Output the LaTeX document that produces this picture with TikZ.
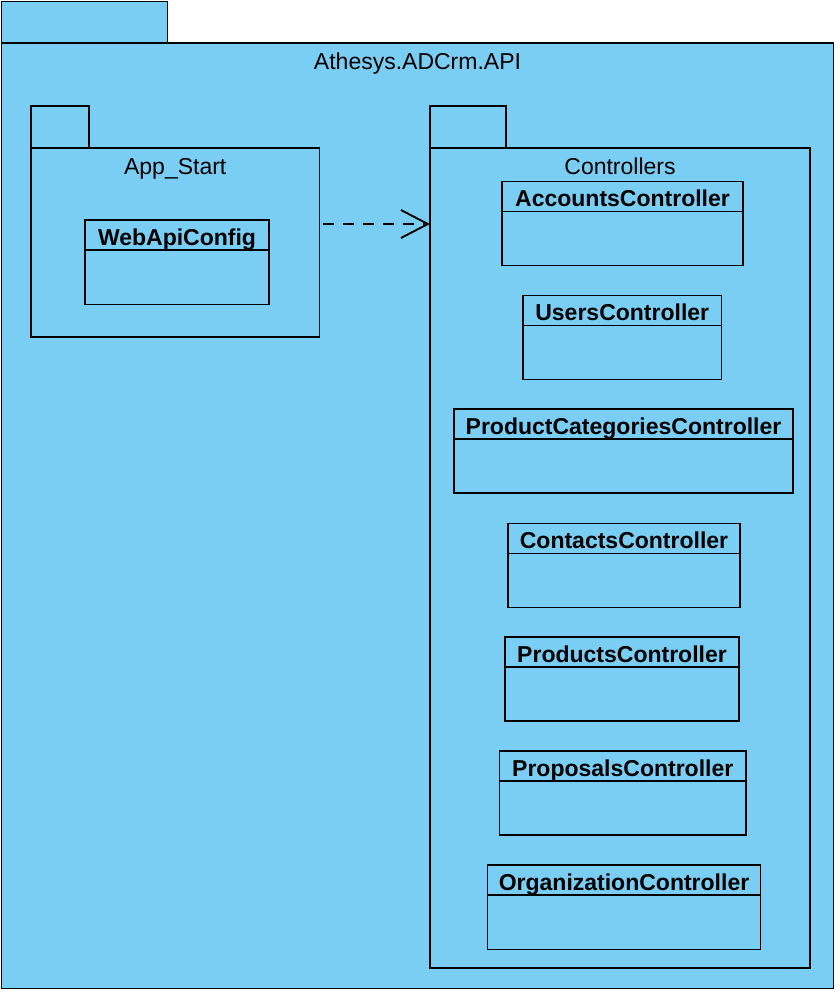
\documentclass[tikz,border=0pt]{standalone}
\usepackage{fontspec}
\setmainfont{Liberation Sans}
\usetikzlibrary{arrows.meta}
\definecolor{pkgfill}{RGB}{122,206,244}
\newcommand\umlpkg[8]{% name, title, tab right x, tab top y, x1, y1, x2, y2
  \node[pkgshape, minimum width={#3-#5}, minimum height={#6-#4}] (#1-tab) at (#5,#4) {};
  \node[pkgshape, minimum width={#7-#5}, minimum height={#8-#6}] (#1) at (#5,#6) {};
  \node[pkgtitle] (#1-title) at ([yshift=-26pt]#1.north) {#2};
}
\newcommand\umlclass[6]{% name, label, x1, y1, x2, y2
  \node[classbox, minimum width={#5-#3}, minimum height={#6-#4}] (#1) at (#3,#4) {};
  \draw[umlline] ([yshift=-30pt]#1.north west) -- ([yshift=-30pt]#1.north east);
  \node[classname] (#1-name) at ([yshift=-25.4pt]#1.north) {#2};
}
\begin{document}
\begin{tikzpicture}[x=1pt,y=-1pt,
  umlline/.style={draw=black, line width=1.9pt},
  pkgshape/.style={umlline, fill=pkgfill, rectangle, inner sep=0pt, outer sep=0pt, anchor=north west},
  pkgtitle/.style={font=\fontsize{23}{27}\selectfont, anchor=base, inner sep=0pt},
  classbox/.style={umlline, fill=pkgfill, rectangle, inner sep=0pt, outer sep=0pt, anchor=north west},
  classname/.style={font=\fontsize{23}{27}\selectfont\bfseries, anchor=base, inner sep=0pt},
  dep/.style={umlline, dash pattern=on 11pt off 9pt, -{Straight Barb[length=27pt,width=28pt]}}
]
\useasboundingbox (0,0) rectangle (840,994);
\umlpkg{api}{Athesys.ADCrm.API}{167.5}{1.5}{1.5}{43}{833.5}{988.5}
\umlpkg{appstart}{App\_Start}{89}{106}{31}{148}{319.5}{337}
\umlpkg{controllers}{Controllers}{506}{106}{430}{148}{810}{968}
\umlclass{webapi}{WebApiConfig}{85}{220}{269}{304.5}
\umlclass{accounts}{AccountsController}{502}{181.5}{743}{265.5}
\umlclass{users}{UsersController}{523}{295.5}{721.5}{379.5}
\umlclass{prodcat}{ProductCategoriesController}{454}{409}{793}{493}
\umlclass{contacts}{ContactsController}{508}{523.5}{740}{607.5}
\umlclass{products}{ProductsController}{505}{637}{739}{721}
\umlclass{proposals}{ProposalsController}{499.5}{751}{746}{835}
\umlclass{organization}{OrganizationController}{487.5}{865}{760.5}{949.5}
\coordinate (depstart) at (323,224);
\draw[dep] (depstart) -- (controllers.west |- depstart);
\end{tikzpicture}
\end{document}
